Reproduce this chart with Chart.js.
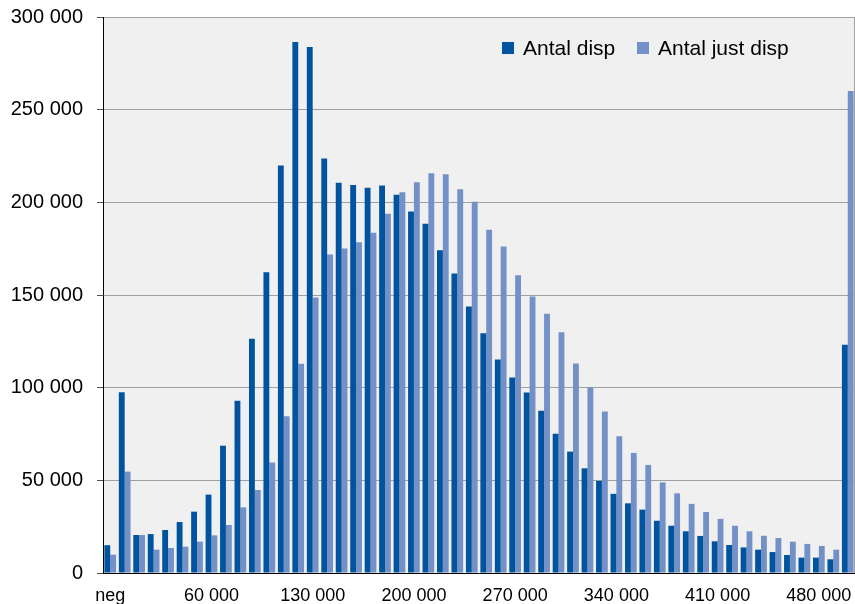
<!DOCTYPE html>
<html>
<head>
<meta charset="utf-8">
<script src="https://cdn.jsdelivr.net/npm/chart.js@4.4.1/dist/chart.umd.min.js"></script>
<style>
  html, body { margin: 0; padding: 0; background: #fff; }
  #wrap { width: 855px; height: 604px; }
</style>
</head>
<body>
<div id="wrap"><canvas id="dispChart" width="855" height="604"></canvas></div>
<script>
// income classes, step 10 000
const CATEGORIES = ['neg', '0', '10 000', '20 000', '30 000', '40 000', '50 000', '60 000', '70 000', '80 000',
    '90 000', '100 000', '110 000', '120 000', '130 000', '140 000', '150 000', '160 000', '170 000', '180 000',
    '190 000', '200 000', '210 000', '220 000', '230 000', '240 000', '250 000', '260 000', '270 000', '280 000',
    '290 000', '300 000', '310 000', '320 000', '330 000', '340 000', '350 000', '360 000', '370 000', '380 000',
    '390 000', '400 000', '410 000', '420 000', '430 000', '440 000', '450 000', '460 000', '470 000', '480 000',
    '490 000', '500 000'];

const ANTAL_DISP = [15000, 97500, 20500, 21000, 23200, 27500, 33100, 42300, 68700, 92900,
    126400, 162300, 219900, 286500, 283800, 223600, 210600, 209300, 207900, 209100,
    204100, 195100, 188500, 174200, 161600, 143800, 129400, 115200, 105500, 97400,
    87600, 75200, 65500, 56500, 49700, 42700, 37600, 34200, 28200, 25500,
    22500, 20000, 17100, 15100, 13800, 12600, 11300, 9700, 8300, 8300,
    7400, 123100];

const ANTAL_JUST_DISP = [9900, 54700, 20500, 12600, 13500, 14200, 16900, 20300, 25900, 35400,
    44800, 59600, 84600, 112900, 148700, 171900, 175100, 178500, 183600, 193900,
    205400, 210900, 215700, 215100, 207000, 200300, 185200, 176200, 160700, 149200,
    139900, 129900, 113000, 100200, 87100, 73800, 64800, 58300, 48900, 43000,
    37300, 32900, 29200, 25500, 22500, 20100, 18900, 16900, 15700, 14600,
    12600, 260100];

const Y_MAX = 300000;
const Y_STEP = 50000;
const LABEL_EVERY = 7; // neg, 60 000, 130 000 ...

const FONT = '"Liberation Sans", Arial, sans-serif';

function fmt(v) {
    return String(v).replace(/\B(?=(\d{3})+(?!\d))/g, ' ');
}

// grey plot background + right frame line
const plotBg = {
    id: 'plotBg',
    beforeDraw(chart) {
        const { ctx, chartArea: a } = chart;
        ctx.save();
        ctx.fillStyle = '#f0f0f0';
        ctx.fillRect(a.left, a.top, a.right - a.left, a.bottom - a.top);
        ctx.restore();
    },
    afterDraw(chart) {
        const { ctx, chartArea: a } = chart;
        ctx.save();
        ctx.strokeStyle = '#a0a0a0';
        ctx.lineWidth = 1;
        ctx.beginPath();
        ctx.moveTo(a.right - 0.5, a.top);
        ctx.lineTo(a.right - 0.5, a.bottom);
        ctx.stroke();
        ctx.restore();
    }
};

// legend drawn inside the plot, top right
const innerLegend = {
    id: 'innerLegend',
    afterDraw(chart) {
        const { ctx, chartArea: a } = chart;
        const items = chart.data.datasets;
        const offsets = [353, 218]; // distance of box from right edge
        ctx.save();
        ctx.font = '21px ' + FONT;
        ctx.textBaseline = 'middle';
        items.forEach((ds, i) => {
            const x = a.right - offsets[i];
            const y = a.top + 31;
            ctx.fillStyle = ds.backgroundColor;
            ctx.fillRect(x, y - 6, 12, 12);
            ctx.fillStyle = '#000';
            ctx.fillText(ds.label, x + 21, y + 1);
        });
        ctx.restore();
    }
};

const ctx = document.getElementById('dispChart').getContext('2d');
const chart = new Chart(ctx, {
    type: 'bar',
    data: {
        labels: CATEGORIES,
        datasets: [
            {
                label: 'Antal disp',
                data: ANTAL_DISP,
                backgroundColor: '#00549f',
                borderWidth: 0
            },
            {
                label: 'Antal just disp',
                data: ANTAL_JUST_DISP,
                backgroundColor: '#7391c7',
                borderWidth: 0
            }
        ]
    },
    options: {
        responsive: false,
        animation: false,
        layout: { padding: { top: 17, right: 0, left: 0, bottom: 0 } },
        datasets: {
            bar: { categoryPercentage: 0.81, barPercentage: 1.0 }
        },
        plugins: {
            legend: { display: false },
            tooltip: { enabled: false }
        },
        scales: {
            x: {
                grid: { display: false, drawTicks: false },
                border: { display: true, color: '#000', width: 1 },
                ticks: {
                    autoSkip: false,
                    maxRotation: 0,
                    minRotation: 0,
                    padding: 12,
                    color: '#000',
                    font: { family: FONT, size: 18 },
                    callback: function (val, idx) {
                        return idx % LABEL_EVERY === 0 ? this.getLabelForValue(val) : '';
                    }
                },
                afterFit(scale) {
                    scale.height = 31;
                    scale.paddingLeft = 0;
                    scale.paddingRight = 0;
                }
            },
            y: {
                min: 0,
                max: Y_MAX,
                grid: {
                    color: '#a0a0a0',
                    tickColor: '#555',
                    tickLength: 6,
                    lineWidth: 1
                },
                border: { display: true, color: '#000', width: 1 },
                ticks: {
                    stepSize: Y_STEP,
                    padding: 14,
                    color: '#000',
                    font: { family: FONT, size: 20 },
                    callback: (v) => fmt(v)
                },
                afterFit(scale) {
                    scale.width = 103;
                    scale.paddingTop = 0;
                    scale.paddingBottom = 0;
                }
            }
        }
    },
    plugins: [plotBg, innerLegend]
});
</script>
</body>
</html>
